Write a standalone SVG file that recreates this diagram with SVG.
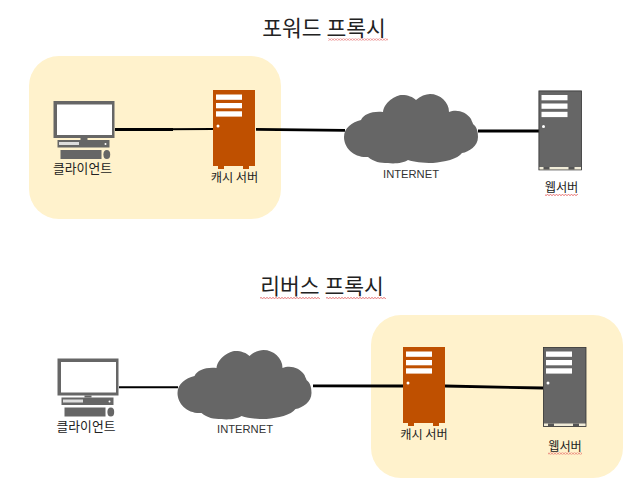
<svg xmlns="http://www.w3.org/2000/svg" width="640" height="493" viewBox="0 0 640 493">
<style>
text{font-family:"Noto Sans CJK KR","Liberation Sans",sans-serif;fill:#222}
.t{font-size:21.500px;text-anchor:middle}
.l{font-size:12.800px;text-anchor:middle}
.s{font-size:12.200px;text-anchor:middle}
.i{font-family:"Liberation Sans",sans-serif;font-size:11.200px;text-anchor:middle;fill:#333}
.zone{fill:#fff2cc}
.c{stroke:#000;stroke-width:2;fill:none}
.b{stroke-width:2.800}
.g{fill:#666}
.o{fill:#bf5000}
</style>
<defs>
<pattern id="wv" width="3" height="2" patternUnits="userSpaceOnUse"><path d="M0 1.500L1.500 .5L3 1.500" fill="none" stroke="#e05050" stroke-width=".8"/></pattern>
<g id="bars">
<rect x="3" y="4.500" width="26" height="5.300" fill="#fff"/>
<rect x="3" y="13" width="26" height="5.300" fill="#fff"/>
<rect x="3" y="21.300" width="26" height="5.300" fill="#fff"/>
<circle cx="5" cy="36" r="1.500" fill="#fff"/>
</g>
<g id="srv-o">
<rect x="0" y="0" width="42" height="76" fill="#bf5000"/>
<rect x="5" y="76" width="6" height="3" fill="#bf5000"/>
<rect x="30" y="76" width="6" height="3" fill="#bf5000"/>
<use href="#bars"/>
</g>
<g id="srv-g">
<rect x=".4" y=".4" width="42.600" height="79" fill="#666" stroke="#333" stroke-width=".8"/>
<rect x="1" y="76.500" width="41.500" height="2.500" fill="#f1ecd8"/>
<rect x="5" y="76.500" width="6" height="2.500" fill="#555"/>
<rect x="30" y="76.500" width="6" height="2.500" fill="#555"/>
<use href="#bars"/>
</g>
<g id="pc">
<rect x="0" y="0" width="61" height="37" fill="#666"/>
<rect x="3.500" y="3.500" width="55" height="30.500" fill="#fff"/>
<rect x="27" y="37" width="7" height="2" fill="#666"/>
<rect x="4" y="39" width="52" height="7.500" fill="#666"/>
<rect x="5.500" y="41" width="20" height="3" fill="#ddd"/>
<circle cx="52" cy="43" r="1" fill="#fff"/>
<rect x="7" y="49" width="41" height="9" fill="#666"/>
<ellipse cx="53.300" cy="53.500" rx="3.400" ry="4.500" fill="#666"/>
</g>
<path id="cloud" d="M0 43C0 34 8 28 17 26C20 20 28 17 39 18C40 8 52 1 58 1C64 1 69 3 72 6C76 2 82 0 86 0C96 0 105 8 105 18C112 15 122 17 127 25C128 28 129 29 129 30C133 33 134 38 134 43C134 52 125 58 118 59C114 65 100 68 89 69C78 69 70 68 64 66C60 69 50 70 44 69C36 69 30 68 24 63C10 64 0 54 0 43Z"/>
</defs>
<g id="title-forward"><text class="t" x="324" y="36">포워드 프록시</text><rect x="328" y="38.500" width="60" height="2" fill="url(#wv)"/></g>
<g id="title-reverse"><text class="t" x="322" y="294">리버스 프록시</text><rect x="260" y="297" width="60" height="2" fill="url(#wv)"/><rect x="326" y="297" width="60" height="2" fill="url(#wv)"/></g>
<rect id="zone-forward" class="zone" x="29" y="56" width="252" height="163" rx="30"/>
<rect id="zone-reverse" class="zone" x="371" y="315" width="252" height="163" rx="30"/>
<g id="connectors">
<path class="c" d="M115 129.500L213 129"/>
<path class="c b" d="M115 129.500L173 129.500"/>
<path class="c b" d="M256 129.300L345 130.300"/>
<path class="c b" d="M478 131L539 131"/>
<path class="c" d="M119 387.300L178 387.300"/>
<path class="c b" d="M313 385.800L403 386"/>
<path class="c b" d="M445 386L543 388"/>
</g>
<g id="client-1"><use href="#pc" x="53.500" y="101"/><text class="l" x="82.500" y="173">클라이언트</text></g>
<g id="cache-1"><use href="#srv-o" x="213" y="90"/><text class="s" x="234.500" y="182">캐시 서버</text></g>
<g id="cloud-1"><use href="#cloud" class="g" x="344" y="94"/><text class="i" x="411" y="177.500">INTERNET</text></g>
<g id="web-1"><use href="#srv-g" x="538.500" y="90.500"/><text class="s" x="561.500" y="192">웹서버</text><rect x="545" y="194" width="33" height="2" fill="url(#wv)"/></g>
<g id="client-2"><use href="#pc" x="57.500" y="358.500"/><text class="l" x="86" y="431">클라이언트</text></g>
<g id="cloud-2"><use href="#cloud" class="g" x="177.500" y="350"/><text class="i" x="245" y="433">INTERNET</text></g>
<g id="cache-2"><use href="#srv-o" x="403" y="347"/><text class="s" x="424" y="439">캐시 서버</text></g>
<g id="web-2"><use href="#srv-g" x="543" y="347"/><text class="s" x="565" y="451">웹서버</text><rect x="548" y="452.500" width="34" height="2" fill="url(#wv)"/></g>
</svg>
